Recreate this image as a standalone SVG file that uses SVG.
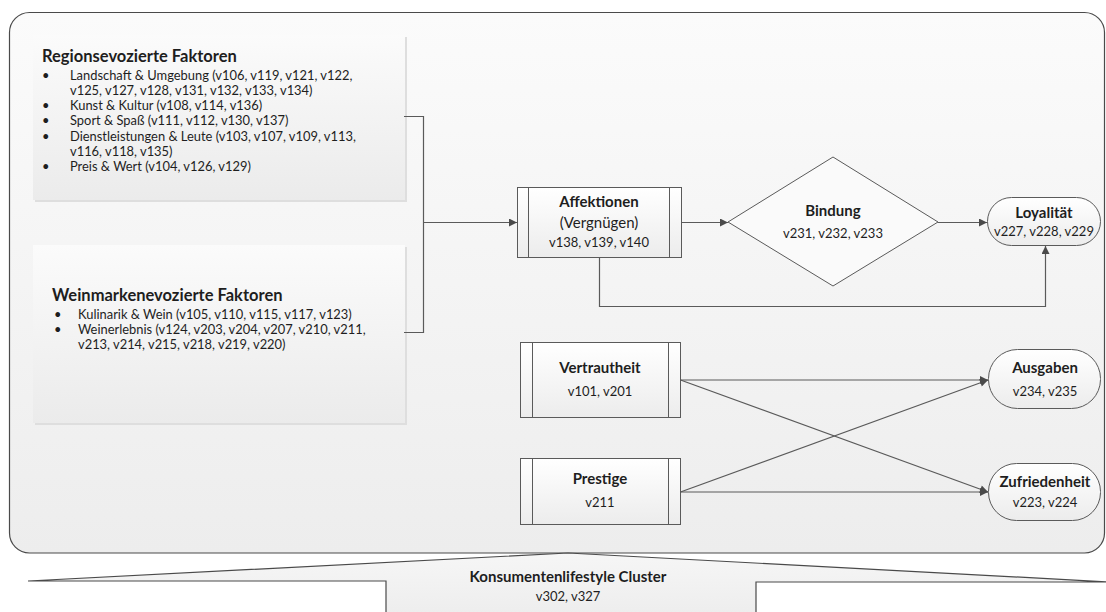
<svg xmlns="http://www.w3.org/2000/svg" width="1106" height="612" viewBox="0 0 1106 612">
<defs>
<linearGradient id="gOuter" x1="0" y1="0" x2="0" y2="1"><stop offset="0" stop-color="#fbfbfb"/><stop offset="1" stop-color="#ededed"/></linearGradient>
<linearGradient id="gBox" x1="0" y1="0" x2="0" y2="1"><stop offset="0" stop-color="#fbfbfb"/><stop offset="1" stop-color="#ebebeb"/></linearGradient>
<linearGradient id="gNode" x1="0" y1="0" x2="0" y2="1"><stop offset="0" stop-color="#ffffff"/><stop offset="1" stop-color="#ececec"/></linearGradient>
<linearGradient id="gArrow" x1="0" y1="0" x2="0" y2="1"><stop offset="0" stop-color="#f6f6f6"/><stop offset="1" stop-color="#ededed"/></linearGradient>
<marker id="ah" viewBox="0 0 10 10" refX="10" refY="5" markerWidth="10" markerHeight="8" markerUnits="userSpaceOnUse" orient="auto"><path d="M0 0 L10 5 L0 10 Z" fill="#4a4a4a"/></marker>
</defs>
<style>
text{font-family:"Lato","Liberation Sans",sans-serif;fill:#1e1e1e}
.t{font-weight:bold;font-size:15px;text-anchor:middle}
.v{font-size:13px;text-anchor:middle}
.b{font-size:12.9px;fill:#2a2a2a}
.h{font-weight:bold;font-size:16.5px}
.node{fill:url(#gNode);stroke:#5a5a5a;stroke-width:1}
.in{stroke:#5a5a5a;stroke-width:1;fill:none}
.sh{fill:#dedede}
.con{fill:none;stroke:#5a5a5a;stroke-width:1.2}
.arr{marker-end:url(#ah)}
</style>
<rect x="9.5" y="12.5" width="1095" height="540.5" rx="20" fill="url(#gOuter)" stroke="#4a4a4a" stroke-width="1.2"/>

<g id="regionsevozierte">
<rect class="sh" x="35" y="37" width="372" height="165"/>
<rect x="33" y="35" width="372" height="165" fill="url(#gBox)"/>
<text class="h" x="42" y="62">Regionsevozierte Faktoren</text>
<g class="b">
<text x="42" y="80">•</text><text x="70" y="80">Landschaft &amp; Umgebung (v106, v119, v121, v122,</text>
<text x="70" y="95">v125, v127, v128, v131, v132, v133, v134)</text>
<text x="42" y="110">•</text><text x="70" y="110">Kunst &amp; Kultur (v108, v114, v136)</text>
<text x="42" y="125">•</text><text x="70" y="125">Sport &amp; Spaß (v111, v112, v130, v137)</text>
<text x="42" y="141">•</text><text x="70" y="141">Dienstleistungen &amp; Leute (v103, v107, v109, v113,</text>
<text x="70" y="156">v116, v118, v135)</text>
<text x="42" y="171">•</text><text x="70" y="171">Preis &amp; Wert (v104, v126, v129)</text>
</g>
</g>

<g id="weinmarkenevozierte">
<rect class="sh" x="35" y="247" width="372" height="178"/>
<rect x="33" y="245" width="372" height="178" fill="url(#gBox)"/>
<text class="h" x="52" y="301">Weinmarkenevozierte Faktoren</text>
<g class="b">
<text x="54" y="319">•</text><text x="78" y="319">Kulinarik &amp; Wein (v105, v110, v115, v117, v123)</text>
<text x="54" y="334">•</text><text x="78" y="334">Weinerlebnis (v124, v203, v204, v207, v210, v211,</text>
<text x="78" y="349">v213, v214, v215, v218, v219, v220)</text>
</g>
</g>

<g id="affektionen">
<rect class="node" x="517.5" y="187.5" width="164" height="70"/>
<path class="in" d="M528.5 187.5V257.5M669.5 187.5V257.5"/>
<text class="t" x="599" y="207">Affektionen</text>
<text x="599" y="228" style="font-size:15px;text-anchor:middle">(Vergnügen)</text>
<text class="v" x="599" y="247">v138, v139, v140</text>
</g>

<g id="bindung">
<polygon points="728,222 833,157 938,222 833,286" fill="#fafafa" stroke="#5a5a5a"/>
<text class="t" x="833" y="216">Bindung</text>
<text class="v" x="833" y="238">v231, v232, v233</text>
</g>

<g id="loyalitaet">
<rect class="node" x="987.5" y="197.5" width="113" height="48" rx="24"/>
<text class="t" x="1044" y="218">Loyalität</text>
<text class="v" x="1044" y="236">v227, v228, v229</text>
</g>

<g id="vertrautheit">
<rect class="node" x="520.5" y="342.5" width="160" height="75"/>
<path class="in" d="M532.5 342.5V417.5M668.5 342.5V417.5"/>
<text class="t" x="600" y="373">Vertrautheit</text>
<text class="v" x="600" y="396">v101, v201</text>
</g>

<g id="prestige">
<rect class="node" x="520.5" y="458.5" width="160" height="66"/>
<path class="in" d="M532.5 458.5V524.5M668.5 458.5V524.5"/>
<text class="t" x="600" y="484">Prestige</text>
<text class="v" x="600" y="507">v211</text>
</g>

<g id="ausgaben">
<rect class="node" x="988.5" y="349.5" width="112" height="59" rx="29"/>
<text class="t" x="1045" y="373">Ausgaben</text>
<text class="v" x="1045" y="396">v234, v235</text>
</g>

<g id="zufriedenheit">
<rect class="node" x="988.5" y="463.5" width="112" height="57" rx="28"/>
<text class="t" x="1045" y="487">Zufriedenheit</text>
<text class="v" x="1045" y="507">v223, v224</text>
</g>

<g id="cluster">
<polygon points="28,581 568,553 1110,582 756,582 756,616 386,616 386,581" fill="url(#gArrow)" stroke="#4a4a4a" stroke-width="1.2"/>
<text class="t" x="568" y="582">Konsumentenlifestyle Cluster</text>
<text class="v" x="568" y="601">v302, v327</text>
</g>

<g id="connectors">
<path class="con" d="M404 116.5H423.5V332.5H404"/>
<path class="con arr" d="M423.5 222.5H517"/>
<path class="con arr" d="M681.5 222.5H728"/>
<path class="con arr" d="M938 222.5H987"/>
<path class="con arr" d="M599.5 257.5V306.5H1045.5V246"/>
<path class="con arr" d="M680.5 380H988"/>
<path class="con arr" d="M680.5 380L988 492"/>
<path class="con arr" d="M680.5 492H988"/>
<path class="con arr" d="M680.5 492L988 380"/>
</g>
</svg>
